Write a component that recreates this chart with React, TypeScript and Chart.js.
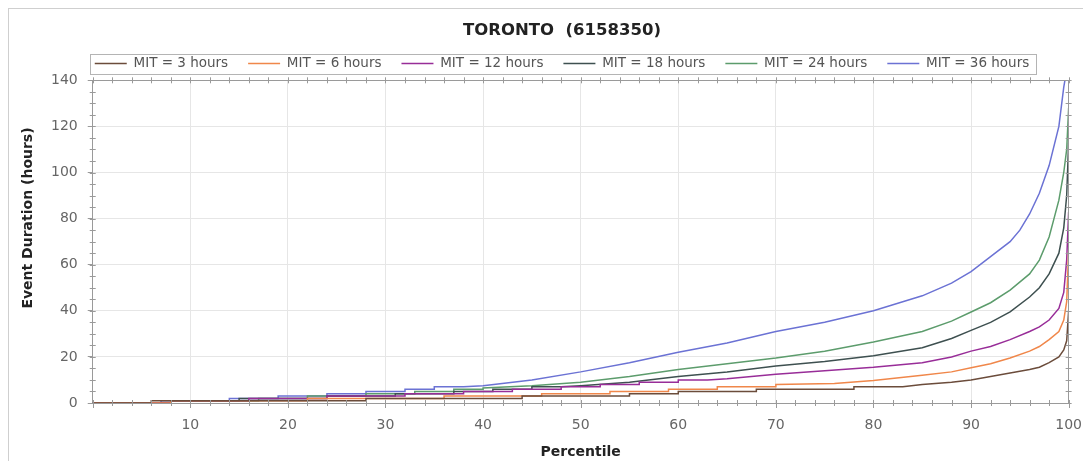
import React, { useEffect, useRef } from "react";
import { Chart, registerables } from "chart.js";

Chart.register(...registerables);

const FONT = "'DejaVu Sans', 'Liberation Sans', sans-serif";

const chartTitle = "TORONTO  (6158350)";
const xAxisTitle = "Percentile";
const yAxisTitle = "Event Duration (hours)";

const seriesLabels = [
  "MIT = 3 hours",
  "MIT = 6 hours",
  "MIT = 12 hours",
  "MIT = 18 hours",
  "MIT = 24 hours",
  "MIT = 36 hours",
];
const seriesColors = ["#6b4c3b", "#f0874a", "#982d98", "#3e5050", "#5c9c6c", "#6b72d4"];

// Percentile (x) and event duration in hours (y) for each MIT series
const pct3 = [0, 6, 6, 28, 28, 44, 44, 55, 55, 60, 60, 68, 68, 78, 78, 83, 85, 88, 90, 92, 94, 96, 97, 98, 99, 99.5, 99.8, 100];
const hrs3 = [0, 0, 1, 1, 2, 2, 3, 3, 4, 4, 5, 5, 6, 6, 7, 7, 8, 9, 10, 11.5, 13, 14.5, 15.5, 17.5, 20, 23, 27, 40];

const pct6 = [0, 8, 8, 22, 22, 36, 36, 46, 46, 53, 53, 59, 59, 64, 64, 70, 70, 76, 80, 85, 88, 90, 92, 94, 96, 97, 98, 99, 99.5, 99.8, 100];
const hrs6 = [0, 0, 1, 1, 2, 2, 3, 3, 4, 4, 5, 5, 6, 6, 7, 7, 8, 8.5, 9.8, 12, 13.5, 15.3, 17, 19.5, 22.5, 24.5, 27.5, 31, 36, 44, 66];

const pct12 = [0, 8, 8, 16, 16, 24, 24, 32, 32, 38, 38, 43, 43, 48, 48, 52, 52, 56, 56, 60, 60, 63, 65, 70, 75, 80, 85, 88, 90, 92, 94, 96, 97, 98, 99, 99.5, 99.8, 100];
const hrs12 = [0, 0, 1, 1, 2, 2, 3, 3, 4, 4, 5, 5, 6, 6, 7, 7, 8, 8, 9, 9, 10, 10, 10.5, 12.5, 14, 15.5, 17.5, 20, 22.5, 24.5, 27.5, 31, 33, 36, 41, 48, 62, 83];

const pct18 = [0, 8, 8, 15, 15, 24, 24, 31, 31, 37, 37, 41, 41, 45, 45, 48, 50, 55, 60, 65, 70, 75, 80, 85, 88, 90, 92, 94, 96, 97, 98, 99, 99.5, 99.8, 100];
const hrs18 = [0, 0, 1, 1, 2, 2, 3, 3, 4, 4, 5, 5, 6, 6, 7, 7, 7.5, 9, 11.5, 13.5, 16, 18, 20.5, 24, 28, 31.5, 35, 39.5, 46, 50, 56, 65, 76, 90, 113];

const pct24 = [0, 8, 8, 17, 17, 22, 22, 28, 28, 33, 33, 37, 37, 40, 40, 45, 50, 55, 60, 65, 70, 75, 80, 85, 88, 90, 92, 94, 96, 97, 98, 98.5, 99, 99.5, 99.8, 100];
const hrs24 = [0, 0, 1, 1, 2, 2, 3, 3, 4, 4, 5, 5, 6, 6, 6.5, 7.5, 9, 11.5, 14.5, 17, 19.5, 22.5, 26.5, 31, 35.5, 39.5, 43.5, 49, 56, 62, 72, 80, 88, 100, 110, 128];

const pct36 = [0, 7, 7, 14, 14, 19, 19, 24, 24, 28, 28, 32, 32, 35, 35, 38, 40, 45, 50, 55, 60, 65, 70, 75, 80, 85, 88, 90, 92, 94, 95, 96, 97, 98, 99, 99.5, 99.7];
const hrs36 = [0, 0, 1, 1, 2, 2, 3, 3, 4, 4, 5, 5, 6, 6, 7, 7, 7.5, 10, 13.5, 17.5, 22, 26, 31, 35, 40, 46.5, 52, 57, 63.5, 70, 75, 82, 91, 103, 120, 137, 142];

const seriesX = [pct3, pct6, pct12, pct18, pct24, pct36];
const seriesY = [hrs3, hrs6, hrs12, hrs18, hrs24, hrs36];

const X_MIN = 0, X_MAX = 100, X_STEP = 10, X_MINOR = 2;
const Y_MIN = 0, Y_MAX = 140, Y_STEP = 20, Y_MINOR = 5;

const AXIS_COLOR = "#9a9a9a";

const framePlugin = {
  id: "frameAndExtras",
  afterDraw(chart: any) {
    const { ctx, chartArea } = chart;
    const { left, right, top, bottom } = chartArea;
    const xs = chart.scales.x;
    const ys = chart.scales.y;
    ctx.save();
    ctx.strokeStyle = AXIS_COLOR;
    ctx.lineWidth = 1;
    ctx.beginPath();
    ctx.moveTo(left, Math.round(top) + 0.5);
    ctx.lineTo(right, Math.round(top) + 0.5);
    ctx.moveTo(Math.round(right) - 0.5, top);
    ctx.lineTo(Math.round(right) - 0.5, bottom);
    for (let v = X_MIN; v <= X_MAX; v += X_MINOR) {
      const px = Math.round(xs.getPixelForValue(v)) + 0.5;
      const major = v % X_STEP === 0;
      ctx.moveTo(px, bottom - 3);
      ctx.lineTo(px, bottom + (major ? 5 : 3));
      ctx.moveTo(px, top - 3);
      ctx.lineTo(px, top + 3);
    }
    for (let v = Y_MIN; v <= Y_MAX; v += Y_MINOR) {
      const py = Math.round(ys.getPixelForValue(v)) + 0.5;
      ctx.moveTo(left - 3, py);
      ctx.lineTo(left + 3, py);
      ctx.moveTo(right - 3, py);
      ctx.lineTo(right + 3, py);
    }
    ctx.stroke();

    // legend frame
    const lg = chart.legend;
    if (lg && lg.legendHitBoxes && lg.legendHitBoxes.length) {
      const hb = lg.legendHitBoxes;
      const first = hb[0];
      const last = hb[hb.length - 1];
      const cy = first.top + first.height / 2;
      const x0 = Math.round(first.left - 5) + 0.5;
      const x1 = Math.round(last.left + last.width + 7) + 0.5;
      ctx.strokeStyle = "#b4b4b4";
      ctx.strokeRect(x0, Math.round(cy - 10) + 0.5, x1 - x0, 20);
    }

    // y axis title
    ctx.fillStyle = "#222";
    ctx.font = `bold 14px ${FONT}`;
    ctx.textAlign = "center";
    ctx.textBaseline = "middle";
    ctx.translate(19, 209);
    ctx.rotate(-Math.PI / 2);
    ctx.fillText(yAxisTitle, 0, 0);
    ctx.restore();
  },
};

export default function App() {
  const canvasRef = useRef<HTMLCanvasElement | null>(null);

  useEffect(() => {
    const canvas = canvasRef.current;
    if (!canvas) return;
    const datasets = seriesLabels.map((label, i) => ({
      label,
      data: seriesX[i].map((x, j) => ({ x, y: seriesY[i][j] })),
      borderColor: seriesColors[i],
      backgroundColor: seriesColors[i],
      borderWidth: 1.5,
      pointRadius: 0,
      tension: 0,
      fill: false,
    }));
    const chart = new Chart(canvas, {
      type: "line",
      data: { datasets },
      plugins: [framePlugin],
      options: {
        animation: false,
        responsive: true,
        maintainAspectRatio: false,
        layout: { padding: { left: 32, right: 0, top: 0, bottom: 0 } },
        plugins: {
          tooltip: { enabled: false },
          title: {
            display: true,
            text: chartTitle,
            color: "#222",
            font: { family: FONT, size: 16.5, weight: "bold" },
            padding: { top: 12, bottom: -4 },
          },
          legend: {
            display: true,
            position: "top",
            labels: {
              usePointStyle: true,
              pointStyle: "line",
              pointStyleWidth: 32,
              color: "#555",
              padding: 20,
              font: { family: FONT, size: 13.5 },
            },
          },
        },
        scales: {
          x: {
            type: "linear",
            min: X_MIN,
            max: X_MAX,
            afterFit: (s: any) => {
              s.height = 58;
            },
            ticks: {
              stepSize: X_STEP,
              autoSkip: false,
              maxRotation: 0,
              padding: 1,
              color: "#666",
              font: { family: FONT, size: 14 },
              callback: (v: any) => (v === 0 ? "" : String(v)),
            },
            grid: { color: "#e6e6e6", tickLength: 13, tickColor: "rgba(0,0,0,0)" },
            border: { color: AXIS_COLOR },
            title: {
              display: true,
              text: xAxisTitle,
              color: "#222",
              font: { family: FONT, size: 14, weight: "bold" },
              padding: { top: 0, bottom: 0 },
            },
          },
          y: {
            type: "linear",
            min: Y_MIN,
            max: Y_MAX,
            ticks: {
              stepSize: Y_STEP,
              padding: 10,
              color: "#666",
              font: { family: FONT, size: 14 },
            },
            grid: { color: "#e6e6e6", tickLength: 5, tickColor: AXIS_COLOR },
            border: { color: AXIS_COLOR },
          },
        },
      },
    } as any);
    return () => chart.destroy();
  }, []);

  return (
    <>
      <style>{"html,body{overflow:hidden}"}</style>
      <div
        style={{
          width: 1074,
          height: 452,
          borderTop: "1px solid #cfcfcf",
          borderLeft: "1px solid #cfcfcf",
          borderRight: "1px solid #cfcfcf",
          position: "relative",
        }}
      >
        <canvas ref={canvasRef} />
      </div>
    </>
  );
}
